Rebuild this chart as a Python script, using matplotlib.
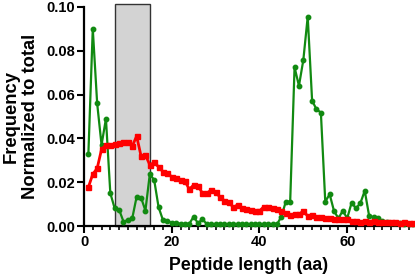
import matplotlib
matplotlib.use("Agg")
import matplotlib.pyplot as plt
from matplotlib.patches import Rectangle
from matplotlib.ticker import MultipleLocator, FormatStrFormatter

length = list(range(1, 76))

green_freq = [0.033, 0.090, 0.056, 0.037, 0.049, 0.015, 0.008, 0.0075, 0.002, 0.0027,
              0.0035, 0.0134, 0.013, 0.007, 0.0237, 0.021, 0.0086, 0.0027, 0.0024, 0.0014,
              0.0015, 0.001, 0.0008, 0.001, 0.0043, 0.0012, 0.0032, 0.0008, 0.0007, 0.0007,
              0.0007, 0.0007, 0.0007, 0.0007, 0.0007, 0.0007, 0.0007, 0.0007, 0.0007, 0.0007,
              0.0007, 0.0007, 0.0007, 0.0008, 0.0043, 0.0111, 0.011, 0.0725, 0.064, 0.0758,
              0.0956, 0.0572, 0.0533, 0.0518, 0.0111, 0.0145, 0.0068, 0.0035, 0.007, 0.0035,
              0.0106, 0.0081, 0.0104, 0.0161, 0.0046, 0.004, 0.0035, 0.0024, 0.002, 0.0015,
              0.0015, 0.0012, 0.001, 0.001, 0.001]

red_freq = [0.0177, 0.0237, 0.0263, 0.035, 0.037, 0.037, 0.0373, 0.0377, 0.0385, 0.0385,
            0.0365, 0.041, 0.032, 0.0324, 0.0279, 0.029, 0.027, 0.0248, 0.024, 0.0225,
            0.022, 0.021, 0.0205, 0.0168, 0.0187, 0.0183, 0.015, 0.015, 0.0164, 0.0157,
            0.0131, 0.0116, 0.0111, 0.0085, 0.0096, 0.0081, 0.0076, 0.0074, 0.007, 0.0069,
            0.0088, 0.0087, 0.0083, 0.0079, 0.0068, 0.006, 0.005, 0.0055, 0.0054, 0.0068,
            0.0045, 0.005, 0.0043, 0.0043, 0.0037, 0.0037, 0.003, 0.0032, 0.003, 0.003,
            0.0023, 0.0023, 0.0019, 0.0021, 0.0019, 0.0025, 0.0019, 0.0018, 0.0017, 0.0016,
            0.0017, 0.0015, 0.0016, 0.0015, 0.0015]

region_start, region_end = 7, 15

plt.rcParams['font.family'] = ['Liberation Sans', 'DejaVu Sans']
plt.rcParams['font.weight'] = 'bold'

fig = plt.figure(figsize=(4.15, 2.77), dpi=100)
ax = fig.add_axes([84/415, 51/277, 329/415, 219/277])

ax.add_patch(Rectangle((region_start, 0), region_end - region_start, 0.1015,
                       facecolor='#d3d3d3', edgecolor='#333333', linewidth=1.0,
                       zorder=1, clip_on=False))

ax.plot(length, green_freq, color='#118a11', linewidth=1.6, marker='o',
        markersize=3.2, zorder=3, clip_on=False)
ax.plot(length, red_freq, color='#ff0000', linewidth=2.0, marker='s',
        markersize=3.6, zorder=4, clip_on=False)

ax.set_xlim(0, 75)
ax.set_ylim(0, 0.10)
ax.xaxis.set_major_locator(MultipleLocator(20))
ax.xaxis.set_minor_locator(MultipleLocator(2))
ax.yaxis.set_major_locator(MultipleLocator(0.02))
ax.yaxis.set_major_formatter(FormatStrFormatter('%.2f'))

for s in ['top', 'right']:
    ax.spines[s].set_visible(False)
for s in ['left', 'bottom']:
    ax.spines[s].set_linewidth(1.6)
    ax.spines[s].set_color('black')

ax.tick_params(axis='both', which='major', length=5, width=1.5, labelsize=10.5, pad=1.5)
ax.tick_params(axis='x', which='minor', length=3, width=1.2)
for lab in ax.get_xticklabels() + ax.get_yticklabels():
    lab.set_fontweight('bold')

ax.set_xlabel('Peptide length (aa)', fontsize=12.8, fontweight='bold', labelpad=6)
ax.set_ylabel('Frequency\nNormalized to total', fontsize=13.2, fontweight='bold',
              labelpad=5, linespacing=1.15)

fig.savefig('out.png', dpi=100)
